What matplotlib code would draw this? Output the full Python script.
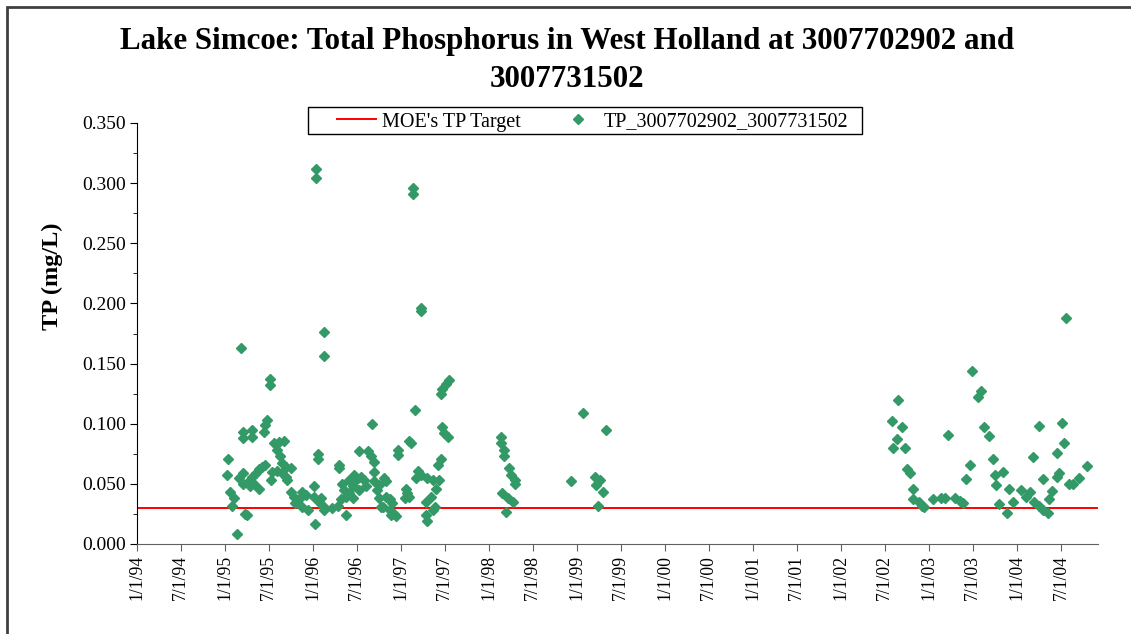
import numpy as np
import pandas as pd
import matplotlib
matplotlib.use("Agg")
import matplotlib.pyplot as plt
import matplotlib.dates as mdates
from matplotlib.patches import Rectangle
from matplotlib.ticker import MultipleLocator, FormatStrFormatter

# -------------- DATA --------------
TITLE = "Lake Simcoe: Total Phosphorus in West Holland at 3007702902 and\n3007731502"
SERIES_LABEL = "TP_3007702902_3007731502"
TARGET_LABEL = "MOE's TP Target"
TARGET = 0.03

# sample dates as decimal years
sample_years = [
    1995.02, 1995.04, 1995.06, 1995.08, 1995.10, 1995.14, 1995.16, 1995.18,
    1995.20, 1995.21, 1995.21, 1995.21, 1995.23, 1995.25, 1995.27, 1995.29,
    1995.31, 1995.31, 1995.31, 1995.33, 1995.35, 1995.39, 1995.39, 1995.42,
    1995.44, 1995.46, 1995.46, 1995.48, 1995.51, 1995.51, 1995.52, 1995.54,
    1995.56, 1995.59, 1995.59, 1995.61, 1995.63, 1995.65, 1995.65, 1995.67,
    1995.69, 1995.69, 1995.71, 1995.75, 1995.75, 1995.78, 1995.80, 1995.84,
    1995.88, 1995.88, 1995.92, 1995.94,
    1996.01, 1996.01, 1996.02, 1996.04, 1996.04, 1996.06, 1996.06, 1996.07,
    1996.09, 1996.11, 1996.13, 1996.13, 1996.13, 1996.22, 1996.28, 1996.30,
    1996.30, 1996.32, 1996.33, 1996.35, 1996.37, 1996.37, 1996.41, 1996.41,
    1996.45, 1996.45, 1996.47, 1996.49, 1996.52, 1996.52, 1996.54, 1996.58,
    1996.60, 1996.62, 1996.66, 1996.67, 1996.69, 1996.69, 1996.69, 1996.73,
    1996.75, 1996.75, 1996.77, 1996.79, 1996.81, 1996.83, 1996.83, 1996.87,
    1996.87, 1996.88, 1996.90, 1996.92, 1996.94, 1996.96, 1996.96,
    1997.04, 1997.06, 1997.07, 1997.09, 1997.09, 1997.11, 1997.14, 1997.14,
    1997.16, 1997.17, 1997.19, 1997.23, 1997.23, 1997.23, 1997.28, 1997.28,
    1997.30, 1997.30, 1997.34, 1997.36, 1997.36, 1997.38, 1997.40, 1997.42,
    1997.43, 1997.45, 1997.45, 1997.47, 1997.47, 1997.49, 1997.51, 1997.53,
    1997.55,
    1998.14, 1998.14, 1998.15, 1998.17, 1998.17, 1998.19, 1998.21, 1998.23,
    1998.25, 1998.27, 1998.29, 1998.29,
    1998.93, 1999.07, 1999.20, 1999.22, 1999.24, 1999.26, 1999.29, 1999.33,
    2002.58, 2002.59, 2002.63, 2002.65, 2002.69, 2002.73, 2002.75, 2002.78,
    2002.82, 2002.82, 2002.88, 2002.92, 2002.94,
    2003.05, 2003.13, 2003.18, 2003.21, 2003.30, 2003.35, 2003.39, 2003.42,
    2003.46, 2003.49, 2003.56, 2003.59, 2003.62, 2003.68, 2003.73, 2003.75,
    2003.76, 2003.80, 2003.84, 2003.89, 2003.91, 2003.95,
    2004.04, 2004.10, 2004.15, 2004.18, 2004.19, 2004.25, 2004.25, 2004.30,
    2004.30, 2004.35, 2004.36, 2004.40, 2004.45, 2004.45, 2004.48, 2004.51,
    2004.53, 2004.55, 2004.59, 2004.64, 2004.70, 2004.79,
]

# total phosphorus (mg/L)
tp_values = [
    0.057, 0.071, 0.043, 0.032, 0.038, 0.008, 0.055, 0.163,
    0.050, 0.059, 0.093, 0.088, 0.025, 0.024, 0.052, 0.048,
    0.056, 0.095, 0.089, 0.050, 0.059, 0.062, 0.046, 0.064,
    0.093, 0.066, 0.099, 0.103, 0.137, 0.132, 0.053, 0.060,
    0.084, 0.078, 0.061, 0.085, 0.073, 0.067, 0.059, 0.086,
    0.064, 0.056, 0.053, 0.063, 0.043, 0.039, 0.034, 0.037,
    0.031, 0.043, 0.041, 0.028,
    0.048, 0.039, 0.017, 0.312, 0.304, 0.075, 0.071, 0.035,
    0.038, 0.032, 0.028, 0.176, 0.156, 0.030, 0.032, 0.066,
    0.063, 0.037, 0.050, 0.045, 0.039, 0.024, 0.042, 0.053,
    0.048, 0.038, 0.057, 0.053, 0.077, 0.045, 0.056, 0.053,
    0.048, 0.077, 0.073, 0.100, 0.068, 0.060, 0.052, 0.045,
    0.049, 0.038, 0.031, 0.031, 0.055, 0.052, 0.039, 0.037,
    0.028, 0.024, 0.034, 0.025, 0.023, 0.078, 0.074,
    0.038, 0.046, 0.042, 0.039, 0.086, 0.084, 0.296, 0.291,
    0.111, 0.055, 0.061, 0.057, 0.196, 0.194, 0.035, 0.024,
    0.055, 0.019, 0.039, 0.053, 0.028, 0.031, 0.046, 0.066,
    0.053, 0.071, 0.125, 0.129, 0.097, 0.092, 0.133, 0.089,
    0.136,
    0.089, 0.084, 0.042, 0.078, 0.073, 0.027, 0.038, 0.063,
    0.057, 0.035, 0.053, 0.050,
    0.052, 0.109, 0.056, 0.049, 0.032, 0.053, 0.043, 0.095,
    0.102, 0.080, 0.087, 0.120, 0.097, 0.080, 0.062, 0.059,
    0.046, 0.037, 0.035, 0.032, 0.031,
    0.037, 0.038, 0.038, 0.091, 0.038, 0.036, 0.034, 0.054,
    0.066, 0.144, 0.122, 0.127, 0.097, 0.090, 0.071, 0.057,
    0.049, 0.033, 0.060, 0.026, 0.046, 0.035,
    0.045, 0.039, 0.043, 0.072, 0.035, 0.032, 0.098, 0.028,
    0.054, 0.026, 0.037, 0.044, 0.056, 0.076, 0.059, 0.101,
    0.084, 0.188, 0.050, 0.050, 0.055, 0.065,
]

X_START = "1994-01-01"
X_END = "2004-12-02"
# -------------------------------------------------------

W, H = 1131, 634


def decimal_year_to_date(y):
    year = int(y)
    start = pd.Timestamp(year=year, month=1, day=1)
    end = pd.Timestamp(year=year + 1, month=1, day=1)
    return start + (end - start) * (y - year)


dates = [decimal_year_to_date(y) for y in sample_years]

plt.rcParams["font.family"] = ["Liberation Serif", "DejaVu Serif"]

fig = plt.figure(figsize=(W / 100, H / 100), dpi=100)
ax = fig.add_axes([137 / W, 1 - 544 / H, (1098 - 137) / W, (544 - 123) / H])

x0, x1 = pd.Timestamp(X_START), pd.Timestamp(X_END)
target_line, = ax.plot([x0, x1], [TARGET, TARGET], color="#FF0000", lw=1.4,
                       label=TARGET_LABEL, zorder=2)
points, = ax.plot(dates, tp_values, linestyle="none", marker="D",
                  markersize=5.4, color="#339966", label=SERIES_LABEL, zorder=3)

ax.set_xlim(x0, x1)
ax.set_ylim(0, 0.35)
ax.yaxis.set_major_locator(MultipleLocator(0.05))
ax.yaxis.set_minor_locator(MultipleLocator(0.025))
ax.yaxis.set_major_formatter(FormatStrFormatter("%.3f"))
ax.xaxis.set_major_locator(mdates.MonthLocator(bymonth=[1, 7]))
ax.xaxis.set_major_formatter(mdates.DateFormatter("%-m/%-d/%y"))

ax.tick_params(axis="y", which="major", direction="out", length=5, labelsize=14, pad=3)
ax.tick_params(axis="y", which="minor", direction="out", length=3)
ax.tick_params(axis="x", which="major", direction="out", length=5, labelsize=12.7,
               labelrotation=90, pad=3, color="#606060")

for side in ["top", "right"]:
    ax.spines[side].set_visible(False)
ax.spines["left"].set_color("black")
ax.spines["bottom"].set_color("#606060")

ax.set_ylabel("TP (mg/L)", fontsize=17.5, fontweight="bold")
ax.yaxis.set_label_coords((63 - 137) / 961, (544 - 276) / 421)

fig.text(0.501, 1 - 27 / H, TITLE, ha="center", va="top", fontsize=22.3,
         fontweight="bold", linespacing=1.42)

# legend: entries placed without frame, box drawn separately
leg = fig.legend(handles=[target_line, points],
                 loc="center left", bbox_to_anchor=(337 / W, 1 - 122 / H),
                 ncol=2, fontsize=14.5, frameon=False, borderpad=0,
                 handlelength=1.95, handletextpad=0.3, columnspacing=1.85,
                 borderaxespad=0, markerscale=0.9)
fig.patches.append(Rectangle((308 / W, 1 - 134 / H), 554 / W, 27 / H, fill=False,
                             edgecolor="black", lw=1.0, transform=fig.transFigure))

# chart-area border (only left and top edges fall inside the image)
fig.patches.append(Rectangle((7 / W, -0.1), 1.2, 1.1 - 7 / H, fill=False,
                             edgecolor="#404040", lw=2, transform=fig.transFigure))

fig.savefig("out.png", dpi=100)
